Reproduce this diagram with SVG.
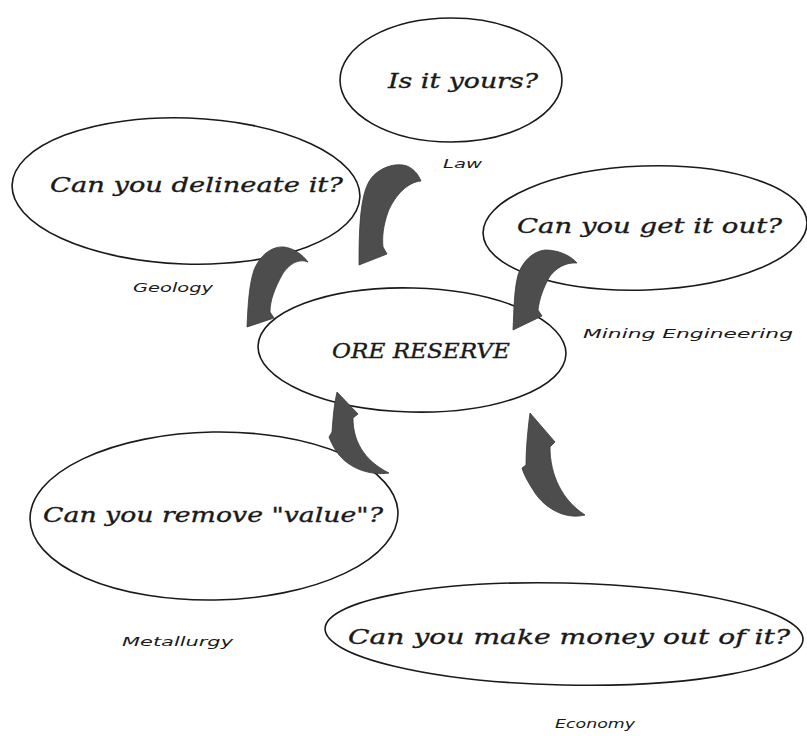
<svg xmlns="http://www.w3.org/2000/svg" width="807" height="736" viewBox="0 0 807 736">
<style>
.bg{fill:#ffffff}
.node{fill:none;stroke:#1a1a1a;stroke-width:1.6}
.q{font-family:"DejaVu Serif","Liberation Serif",serif;font-style:italic;font-size:21px;fill:#1a1a1a;stroke:#1a1a1a;stroke-width:0.35}
.lab{font-family:"DejaVu Sans","Liberation Sans",sans-serif;font-style:italic;font-size:13px;fill:#1a1a1a}
.arrow{fill:#4d4d4d;stroke:#3a3a3a;stroke-width:0.8;stroke-linejoin:round}
</style>
<rect class="bg" x="0" y="0" width="807" height="736"/>
<g id="law">
<ellipse class="node" cx="451" cy="80" rx="111" ry="62"/>
<text class="q" x="388" y="88" font-size="26" textLength="150" lengthAdjust="spacingAndGlyphs">Is it yours?</text>
<text class="lab" x="443" y="168" textLength="39" lengthAdjust="spacingAndGlyphs">Law</text>
</g>
<g id="geology">
<ellipse class="node" cx="186" cy="191" rx="174" ry="73" transform="rotate(2 186 191)"/>
<text class="q" x="50" y="192" textLength="293" lengthAdjust="spacingAndGlyphs">Can you delineate it?</text>
<text class="lab" x="133" y="292" textLength="80" lengthAdjust="spacingAndGlyphs">Geology</text>
</g>
<g id="mining">
<ellipse class="node" cx="645" cy="228" rx="162" ry="62" transform="rotate(-2 645 228)"/>
<text class="q" x="517" y="233" textLength="265" lengthAdjust="spacingAndGlyphs">Can you get it out?</text>
<text class="lab" x="583" y="338" textLength="210" lengthAdjust="spacingAndGlyphs">Mining Engineering</text>
</g>
<g id="ore-reserve">
<ellipse class="node" cx="412" cy="350" rx="154" ry="62" transform="rotate(1.5 412 350)"/>
<text class="q" x="332" y="358" font-size="24" textLength="178" lengthAdjust="spacingAndGlyphs">ORE RESERVE</text>
</g>
<g id="metallurgy">
<ellipse class="node" cx="214" cy="516" rx="184" ry="84" transform="rotate(-1 214 516)"/>
<text class="q" x="43" y="522" textLength="340" lengthAdjust="spacingAndGlyphs">Can you remove "value"?</text>
<text class="lab" x="122" y="646" textLength="111" lengthAdjust="spacingAndGlyphs">Metallurgy</text>
</g>
<g id="economy">
<ellipse class="node" cx="564" cy="634" rx="239" ry="51" transform="rotate(1.3 564 634)"/>
<text class="q" x="348" y="644" textLength="442" lengthAdjust="spacingAndGlyphs">Can you make money out of it?</text>
<text class="lab" x="555" y="728" textLength="80" lengthAdjust="spacingAndGlyphs">Economy</text>
</g>
<g id="connectors">
<path class="arrow" d="M 359 265 C 359 230 360 195 370 180 C 378 168 395 162 407 166 C 414 169 418 174 421 181 C 408 182 395 195 388 212 C 383 226 382 238 383 247 L 387 254 Z"/>
<path class="arrow" d="M 247 327 C 248 305 249 285 254 270 C 260 255 272 246 284 247 C 293 248 302 254 308 262 C 298 258 288 265 282 275 C 275 288 270 300 270 312 L 274 318 Z"/>
<path class="arrow" d="M 513 330 C 514 310 514 290 518 275 C 522 262 533 251 545 250 C 558 250 570 255 577 263 C 566 262 556 268 550 276 C 543 288 539 300 538 310 L 542 316 Z"/>
<path class="arrow" d="M 337 392 L 358 414 L 353 418 C 353 440 363 460 389 473 C 370 476 350 468 340 456 C 334 449 331 442 329 437 L 332 432 C 333 418 334 404 337 392 Z"/>
<path class="arrow" d="M 530 413 L 555 442 L 550 447 C 550 475 562 500 585 515 C 565 520 545 508 535 493 C 528 482 524 475 522 468 L 526 465 C 526 448 528 428 530 413 Z"/>
</g>
</svg>
